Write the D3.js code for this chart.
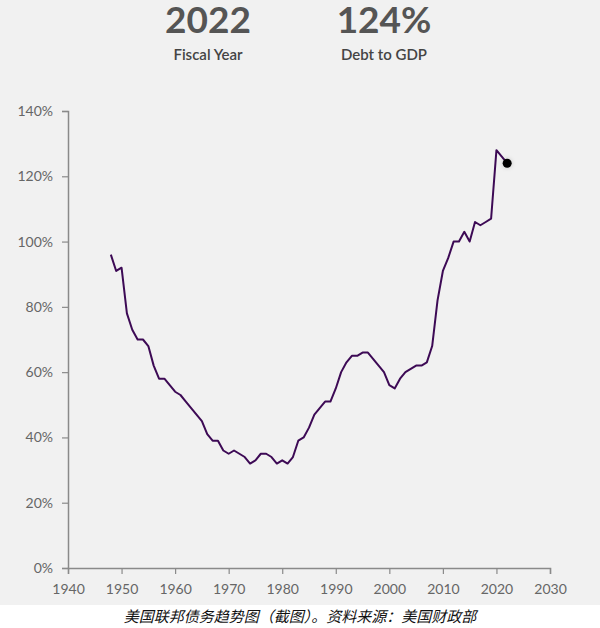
<!DOCTYPE html>
<html>
<head>
<meta charset="utf-8">
<script src="https://cdn.jsdelivr.net/npm/d3@7"></script>
<style>
  html, body { margin: 0; padding: 0; background: #ffffff; }
  svg { display: block; }
</style>
</head>
<body>
<svg id="chart" width="600" height="628"></svg>
<script>
// ---- data ----
const years = d3.range(1948, 2023);
const debtToGDP = [
  96, 91, 92, 78, 73, 70, 70, 68, 62, 58, 58, 56,      // 1948-1959
  54, 53, 51, 49, 47, 45, 41, 39, 39, 36,              // 1960-1969
  35, 36, 35, 34, 32, 33, 35, 35, 34, 32,              // 1970-1979
  33, 32, 34, 39, 40, 43, 47, 49, 51, 51,              // 1980-1989
  55, 60, 63, 65, 65, 66, 66, 64, 62, 60,              // 1990-1999
  56, 55, 58, 60, 61, 62, 62, 63, 68, 82,              // 2000-2009
  91, 95, 100, 100, 103, 100, 106, 105, 106, 107,      // 2010-2019
  128, 126, 124                                        // 2020-2022
];
const xTicks = [1940, 1950, 1960, 1970, 1980, 1990, 2000, 2010, 2020, 2030];
const yTicks = [0, 20, 40, 60, 80, 100, 120, 140];
const headerYear = "2022";
const headerYearLabel = "Fiscal Year";
const headerValue = "124%";
const headerValueLabel = "Debt to GDP";
const caption = "美国联邦债务趋势图（截图）。资料来源：美国财政部";

const data = years.map((y, i) => ({ year: y, value: debtToGDP[i] }));

const svg = d3.select("#chart");

// background panel
svg.append("rect").attr("x", 0).attr("y", 0).attr("width", 600).attr("height", 605)
  .attr("fill", "#f1f1f1");

const x = d3.scaleLinear().domain([1940, 2030]).range([68, 550]);
const y = d3.scaleLinear().domain([0, 140]).range([568, 111]);

// header
const hdr = svg.append("g").attr("font-family", "Lato, 'Open Sans', sans-serif").attr("text-anchor", "middle");
hdr.append("text").attr("x", 208).attr("y", 33).attr("font-size", 37).attr("font-weight", 700)
  .attr("fill", "#555").text(headerYear);
hdr.append("text").attr("x", 208).attr("y", 60).attr("font-size", 15).attr("font-weight", 600)
  .attr("fill", "#444").text(headerYearLabel);
hdr.append("text").attr("x", 384).attr("y", 33).attr("font-size", 37).attr("font-weight", 700)
  .attr("fill", "#555").text(headerValue);
hdr.append("text").attr("x", 384).attr("y", 60).attr("font-size", 15).attr("font-weight", 600)
  .attr("fill", "#444").text(headerValueLabel);

// axes
const yAxis = d3.axisLeft(y).tickValues(yTicks).tickFormat(d => d + "%").tickSize(6).tickPadding(9);
const xAxis = d3.axisBottom(x).tickValues(xTicks).tickFormat(d3.format("d")).tickSize(6).tickPadding(10);

const gy = svg.append("g").attr("transform", "translate(68,0)").call(yAxis);
const gx = svg.append("g").attr("transform", "translate(0,568)").call(xAxis);
[gx, gy].forEach(g => {
  g.selectAll("path.domain").attr("stroke", "#8a8a8a").attr("stroke-width", 1.5);
  g.selectAll(".tick line").attr("stroke", "#8a8a8a").attr("stroke-width", 1.2);
  g.selectAll(".tick text").attr("fill", "#666").attr("font-size", 14)
    .attr("font-family", "Lato, 'Liberation Sans', sans-serif");
});

// line
const line = d3.line().x(d => x(d.year)).y(d => y(d.value));
svg.append("path").datum(data).attr("d", line)
  .attr("fill", "none").attr("stroke", "#3d0a55").attr("stroke-width", 2)
  .attr("stroke-linejoin", "round");

// end dot with soft glow
const defs = svg.append("defs");
const f = defs.append("filter").attr("id", "glow").attr("x", "-100%").attr("y", "-100%")
  .attr("width", "300%").attr("height", "300%");
f.append("feDropShadow").attr("dx", 0).attr("dy", 0).attr("stdDeviation", 2)
  .attr("flood-color", "#000").attr("flood-opacity", 0.2);
const last = data[data.length - 1];
svg.append("circle").attr("cx", x(last.year)).attr("cy", y(last.value)).attr("r", 4.5)
  .attr("fill", "#000").attr("filter", "url(#glow)");

// caption
svg.append("text").attr("x", 300).attr("y", 622).attr("text-anchor", "middle")
  .attr("font-family", "'Noto Sans CJK SC', sans-serif").attr("font-size", 15)
  .attr("font-style", "italic").attr("fill", "#111").text(caption);
</script>
</body>
</html>
